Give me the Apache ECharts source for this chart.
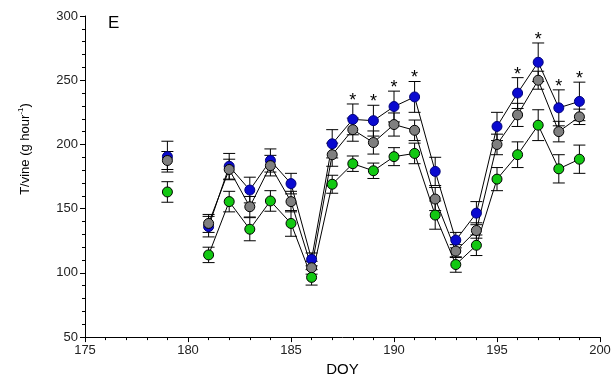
<!DOCTYPE html>
<html><head><meta charset="utf-8">
<script src="https://cdn.jsdelivr.net/npm/echarts@6/dist/echarts.min.js"></script>
<style>html,body{margin:0;padding:0;background:#fff}#c{width:614px;height:382px}</style>
</head><body><div id="c"></div>
<script>
var days = [179, 180, 181, 182, 183, 184, 185, 186, 187, 188, 189, 190, 191, 192, 193, 194, 195, 196, 197, 198, 199];
var blueVals  = [190.5, null, 136, 183, 164.5, 187.5, 169.5, 110.5, 200.5, 219.5, 218.5, 229.5, 237, 179, 125.5, 146.5, 214, 240, 264, 228.5, 233.5];
var grayVals  = [187.5, null, 138.5, 180.5, 151.5, 183.5, 155.5, 104, 192, 211.5, 201.5, 215.5, 211, 157.5, 117, 133, 200, 223, 250, 210, 221.5];
var greenVals = [163, null, 114, 155.5, 134, 156, 138.5, 96.5, 169, 185, 179.5, 190.5, 193, 145, 106.5, 121.5, 173, 192, 215, 181, 188.5];
var blueErr   = [12, null, 8, 10, 10, 9, 8, 5, 11, 12, 12, 12, 12, 11, 6, 9, 11, 12, 15, 14, 15];
var grayErr   = [7, null, 7, 8, 8, 8, 8, 5, 9, 9, 9, 9, 8, 9, 5, 6, 8, 9, 7, 8, 6];
var greenErr  = [8, null, 6, 8, 9, 8, 10, 6, 7, 6, 6, 7, 8, 11, 6, 8, 9, 10, 12, 11, 11];
var starDays  = [188, 189, 190, 191, 196, 197, 198, 199];
var xTicks = [175, 180, 185, 190, 195, 200];
var yTicks = [50, 100, 150, 200, 250, 300];

function lineData(vals){ return days.map(function(d,i){ return vals[i]==null ? [d,'-'] : [d, vals[i]]; }); }
function errData(vals, errs){
  var out=[]; days.forEach(function(d,i){ if(vals[i]!=null) out.push([d, vals[i], errs[i]]); }); return out;
}
function errRender(params, api){
  var x = api.value(0), y = api.value(1), e = api.value(2);
  var top = api.coord([x, y+e]), bot = api.coord([x, y-e]);
  var hw = 6;
  var st = {stroke:'#000', lineWidth:1};
  return {type:'group', children:[
    {type:'line', shape:{x1:top[0],y1:top[1],x2:bot[0],y2:bot[1]}, style:st},
    {type:'line', shape:{x1:top[0]-hw,y1:top[1],x2:top[0]+hw,y2:top[1]}, style:st},
    {type:'line', shape:{x1:bot[0]-hw,y1:bot[1],x2:bot[0]+hw,y2:bot[1]}, style:st}
  ]};
}
var starData = starDays.map(function(d){ var i = days.indexOf(d); return [d, blueVals[i]+blueErr[i]]; });
function starRender(params, api){
  var p = api.coord([api.value(0), api.value(1)]);
  return {type:'text', x:p[0], y:p[1]+6, style:{text:'*', fill:'#000', font:'18px "Liberation Sans", Arial', textAlign:'center', textVerticalAlign:'bottom'}};
}
function mk(name, vals, color, border){
  return {name:name, type:'line', data:lineData(vals), symbol:'circle', symbolSize:10, showSymbol:true,
    connectNulls:false, lineStyle:{color:'#000', width:1}, itemStyle:{color:color, borderColor:border, borderWidth:1}, z:3};
}
var chart = echarts.init(document.getElementById('c'), null, {renderer:'canvas'});
var font = '"Liberation Sans", Arial, sans-serif';
chart.setOption({
  animation:false,
  grid:{left:85, right:14, top:16, bottom:38},
  title:{text:'E', left:103, top:10, textStyle:{fontSize:17, fontWeight:'normal', color:'#000', fontFamily:font}},
  graphic:[{type:'text', x:25, y:149, rotation:Math.PI/2,
    style:{text:'{a|T/vine (g hour}{s|-1}{a|)}', textAlign:'center', textVerticalAlign:'middle',
      rich:{a:{fontSize:13, fill:'#000', fontFamily:font}, s:{fontSize:8, fill:'#000', fontFamily:font, padding:[0,0,9,0]}}}}],
  xAxis:{type:'value', min:175, max:200, interval:5, name:'DOY', nameLocation:'middle', nameGap:24,
    nameTextStyle:{fontSize:15, color:'#000', fontFamily:font},
    axisLine:{show:true, lineStyle:{color:'#000', width:1}},
    axisTick:{show:true, length:5, lineStyle:{color:'#000'}},
    minorTick:{show:true, splitNumber:5, length:3, lineStyle:{color:'#000'}},
    axisLabel:{fontSize:13, color:'#222', fontFamily:font, margin:7, customValues:xTicks},
    splitLine:{show:false}},
  yAxis:{type:'value', min:50, max:300, interval:50,
    axisLine:{show:true, lineStyle:{color:'#000', width:1}},
    axisTick:{show:true, length:5, lineStyle:{color:'#000'}},
    minorTick:{show:true, splitNumber:5, length:3, lineStyle:{color:'#000'}},
    axisLabel:{fontSize:13, color:'#222', fontFamily:font, margin:7},
    splitLine:{show:false}},
  series:[
    {type:'custom', renderItem:errRender, data:errData(blueVals, blueErr), encode:{x:0,y:1}, z:1},
    {type:'custom', renderItem:errRender, data:errData(grayVals, grayErr), encode:{x:0,y:1}, z:1},
    {type:'custom', renderItem:errRender, data:errData(greenVals, greenErr), encode:{x:0,y:1}, z:1},
    mk('blue', blueVals, '#0a0ad0', '#00007a'),
    mk('gray', grayVals, '#7f7f7f', '#000'),
    mk('green', greenVals, '#12c812', '#000'),
    {type:'custom', renderItem:starRender, data:starData, encode:{x:0,y:1}, z:4}
  ]
});
</script></body></html>
